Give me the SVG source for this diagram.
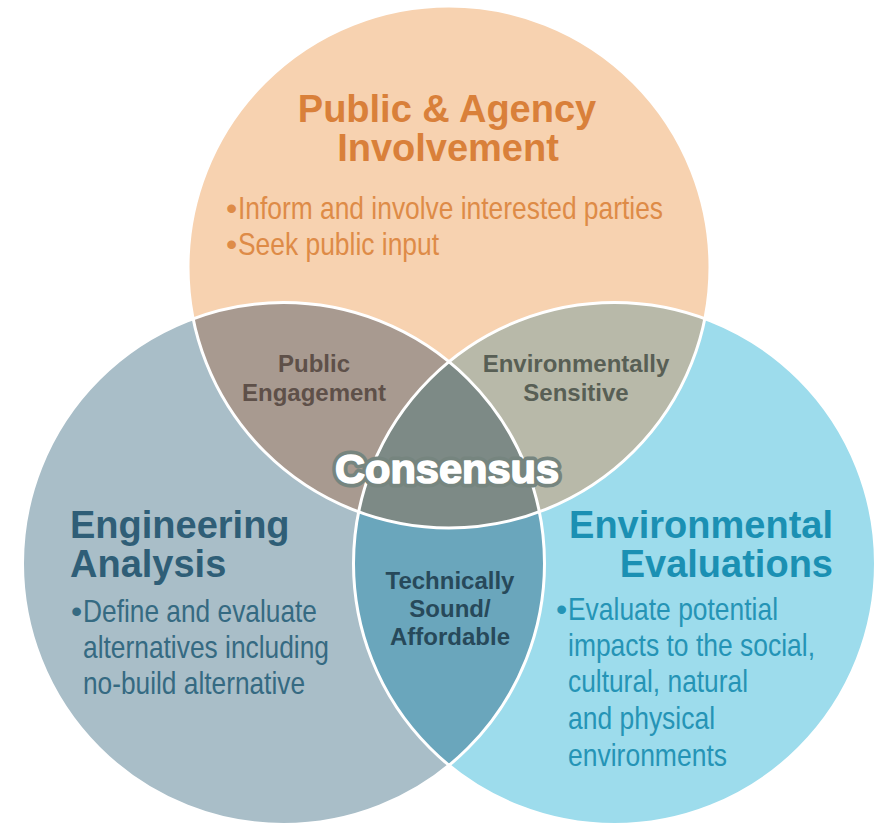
<svg xmlns="http://www.w3.org/2000/svg" width="874" height="824" viewBox="0 0 874 824">
<style>
.title{font-family:"Liberation Sans",Arial,sans-serif;font-weight:bold;font-size:38px}
.body{font-family:"Liberation Sans Narrow","Arial Narrow","Liberation Sans",Arial,sans-serif;font-size:32px}
.lens{font-family:"Liberation Sans",Arial,sans-serif;font-weight:bold;font-size:24px;text-anchor:middle}
.edge{fill:none;stroke:#ffffff;stroke-width:3}
.cons{font-family:"Liberation Sans",Arial,sans-serif;font-weight:bold;font-size:41px;text-anchor:middle;stroke-linejoin:round}
</style>
<defs>
<clipPath id="cT"><circle cx="449" cy="267" r="261"/></clipPath>
<clipPath id="cL"><circle cx="283.5" cy="563.5" r="261"/></clipPath>
<clipPath id="cR"><circle cx="614.5" cy="563.5" r="261"/></clipPath>
</defs>
<rect width="874" height="824" fill="#ffffff"/>
<g id="circles">
<circle id="circle-top" cx="449" cy="267" r="261" fill="#F7D2B0"/>
<circle id="circle-left" cx="283.5" cy="563.5" r="261" fill="#A9BEC8"/>
<circle id="circle-right" cx="614.5" cy="563.5" r="261" fill="#9DDCEC"/>
<circle cx="283.5" cy="563.5" r="261" fill="#A89A90" clip-path="url(#cT)"/>
<circle cx="614.5" cy="563.5" r="261" fill="#B8B9A9" clip-path="url(#cT)"/>
<circle cx="614.5" cy="563.5" r="261" fill="#6AA6BC" clip-path="url(#cL)"/>
<g clip-path="url(#cT)"><circle cx="614.5" cy="563.5" r="261" fill="#7D8A86" clip-path="url(#cL)"/></g>
</g>
<g id="connectors">
<circle class="edge" cx="449" cy="267" r="261"/>
<circle class="edge" cx="283.5" cy="563.5" r="261"/>
<circle class="edge" cx="614.5" cy="563.5" r="261"/>
</g>
<g id="node-public">
<text class="title" x="447" y="122" text-anchor="middle" fill="#D9803A">Public &amp; Agency</text>
<text class="title" x="448" y="161" text-anchor="middle" fill="#D9803A">Involvement</text>
<text class="body" x="226" y="219" fill="#DE8B47">•</text>
<text class="body" x="238" y="219" fill="#DE8B47" textLength="425" lengthAdjust="spacingAndGlyphs">Inform and involve interested parties</text>
<text class="body" x="226" y="255" fill="#DE8B47">•</text>
<text class="body" x="238" y="255" fill="#DE8B47" textLength="201" lengthAdjust="spacingAndGlyphs">Seek public input</text>
</g>
<g id="node-engineering">
<text class="title" x="70" y="538" fill="#2F5E77">Engineering</text>
<text class="title" x="70" y="577" fill="#2F5E77">Analysis</text>
<text class="body" x="71" y="622" fill="#356A82">•</text>
<text class="body" x="83" y="622" fill="#356A82" textLength="234" lengthAdjust="spacingAndGlyphs">Define and evaluate</text>
<text class="body" x="83" y="658" fill="#356A82" textLength="246" lengthAdjust="spacingAndGlyphs">alternatives including</text>
<text class="body" x="83" y="694" fill="#356A82" textLength="222" lengthAdjust="spacingAndGlyphs">no-build alternative</text>
</g>
<g id="node-environmental">
<text class="title" x="833" y="538" text-anchor="end" fill="#1B90B3">Environmental</text>
<text class="title" x="833" y="577" text-anchor="end" fill="#1B90B3">Evaluations</text>
<text class="body" x="556" y="620" fill="#2594B6">•</text>
<text class="body" x="568" y="620" fill="#2594B6" textLength="210" lengthAdjust="spacingAndGlyphs">Evaluate potential</text>
<text class="body" x="568" y="656" fill="#2594B6" textLength="247" lengthAdjust="spacingAndGlyphs">impacts to the social,</text>
<text class="body" x="568" y="692" fill="#2594B6" textLength="180" lengthAdjust="spacingAndGlyphs">cultural, natural</text>
<text class="body" x="568" y="729" fill="#2594B6" textLength="147" lengthAdjust="spacingAndGlyphs">and physical</text>
<text class="body" x="568" y="766" fill="#2594B6" textLength="159" lengthAdjust="spacingAndGlyphs">environments</text>
</g>
<g id="node-public-engagement">
<text class="lens" x="314" y="372" fill="#5E5049" font-size="23.5">Public</text>
<text class="lens" x="314" y="401" fill="#5E5049" font-size="23.5">Engagement</text>
</g>
<g id="node-environmentally-sensitive">
<text class="lens" x="576" y="372" fill="#585F55">Environmentally</text>
<text class="lens" x="576" y="401" fill="#585F55">Sensitive</text>
</g>
<g id="node-technically-sound">
<text class="lens" x="450" y="589" fill="#27495A">Technically</text>
<text class="lens" x="450" y="617" fill="#27495A">Sound/</text>
<text class="lens" x="450" y="645" fill="#27495A">Affordable</text>
</g>
<g id="node-consensus">
<text class="cons" x="447" y="483" fill="#76857F" stroke="#76857F" stroke-width="9" textLength="224" lengthAdjust="spacingAndGlyphs">Consensus</text>
<text class="cons" x="447" y="483" fill="#ffffff" stroke="#ffffff" stroke-width="1.6" textLength="224" lengthAdjust="spacingAndGlyphs">Consensus</text>
</g>
</svg>
